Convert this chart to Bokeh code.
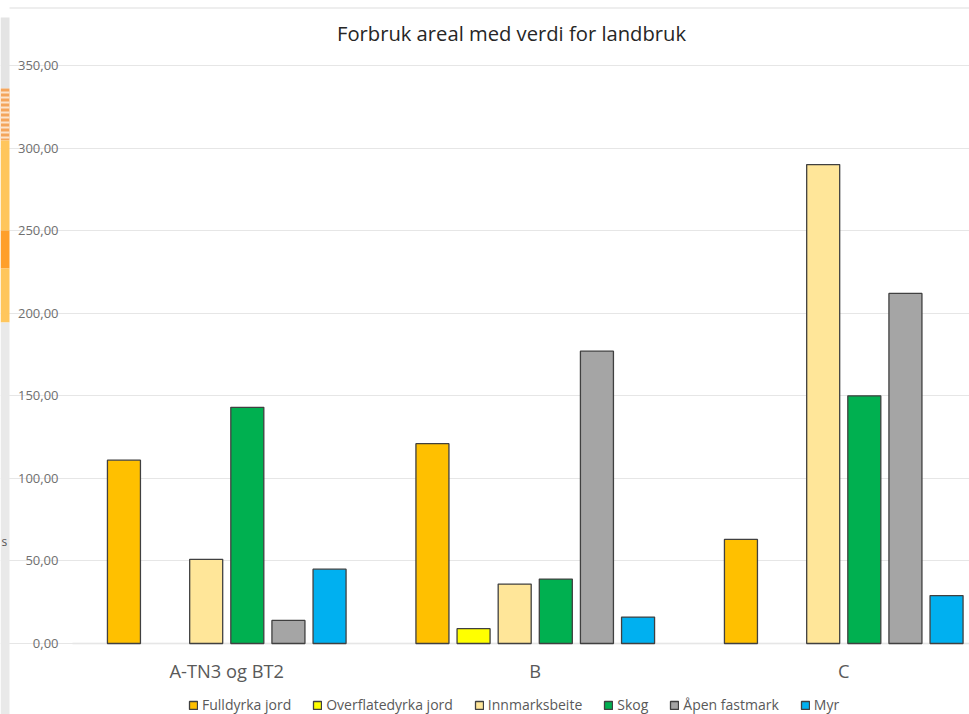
from bokeh.plotting import figure
from bokeh.embed import file_html
from bokeh.resources import INLINE
from bokeh.models import (ColumnDataSource, FixedTicker, Legend, LegendItem, Range1d,
                          BoxAnnotation, Label)

title = "Forbruk areal med verdi for landbruk"
categories = ["A-TN3 og BT2", "B", "C"]
series_names = ["Fulldyrka jord", "Overflatedyrka jord", "Innmarksbeite", "Skog", "Åpen fastmark", "Myr"]
colors = ["#FFC000", "#FFFF00", "#FFE699", "#00B050", "#A5A5A5", "#00B0F0"]
fulldyrka = [111, 121, 63]
overflatedyrka = [0, 9, 0]
innmarksbeite = [51, 36, 290]
skog = [143, 39, 150]
apen_fastmark = [14, 177, 212]
myr = [45, 16, 29]
series = [fulldyrka, overflatedyrka, innmarksbeite, skog, apen_fastmark, myr]
y_ticks = [0, 50, 100, 150, 200, 250, 300, 350]
y_labels = ["0,00", "50,00", "100,00", "150,00", "200,00", "250,00", "300,00", "350,00"]

FONT = "Open Sans"
W, H = 969, 714
PLOT_LEFT, BASE_Y, TOP_Y = 72, 643, 65   # page pixels of the chart's plot box
CAT_W = 308.5
PX_PER_UNIT = (BASE_Y - TOP_Y) / 350

x_start, x_end = -PLOT_LEFT / CAT_W, (W - PLOT_LEFT) / CAT_W
y_start, y_end = -(H - BASE_Y) / PX_PER_UNIT, BASE_Y / PX_PER_UNIT

p = figure(width=W, height=H, output_backend="svg", toolbar_location=None,
           x_range=Range1d(x_start, x_end), y_range=Range1d(y_start, y_end),
           min_border_left=0, min_border_right=0, min_border_top=0, min_border_bottom=0,
           outline_line_color=None, background_fill_color="white", border_fill_color="white")

# Top rule and the cropped map strip at the left edge of the screenshot
def box(x0, x1, y0, y1, c):
    p.add_layout(BoxAnnotation(left=x0, right=x1, top=H - y0, bottom=H - y1, left_units="screen",
                               right_units="screen", top_units="screen", bottom_units="screen",
                               fill_color=c, fill_alpha=1, line_color=None))

box(9, W, 7, 8, "#dddddd")
for y0, y1, c in [(17, 88, "#e4e4e4"), (88, 140, "#f4a55c"), (140, 230, "#ffc65c"), (230, 268, "#ff9f2a"),
                  (268, 322, "#ffc65c"), (322, 714, "#e9e9e9")]:
    box(0, 9, y0, y1, c)
for y0 in range(91, 138, 5):
    box(0, 9, y0, y0 + 2, "#fbe3cc")

# Bars
legend_items = []
step = 0.1333
for j, (name, vals, col) in enumerate(zip(series_names, series, colors)):
    xs = [i + 0.5 + (j - 2.5) * step for i, v in enumerate(vals) if v > 0]
    ys = [v for v in vals if v > 0]
    src = ColumnDataSource(dict(x=xs, top=ys))
    r = p.vbar(x="x", top="top", bottom=0, width=0.107, source=src, fill_color=col,
               line_color="#404040", line_width=1.3)
    legend_items.append(LegendItem(label=name, renderers=[r]))

# Axes, fixed inside the full-page frame
p.yaxis.fixed_location = 0
p.yaxis.ticker = FixedTicker(ticks=y_ticks)
p.yaxis.major_label_overrides = {t_: l for t_, l in zip(y_ticks, y_labels)}
p.yaxis.axis_line_color = None
p.yaxis.major_tick_line_color = None
p.yaxis.major_tick_out = 0
p.yaxis.minor_tick_line_color = None
p.yaxis.major_label_standoff = 14
p.yaxis.major_label_text_font = FONT
p.yaxis.major_label_text_font_size = "13px"
p.yaxis.major_label_text_color = "#707070"

x_ticks = [i + 0.5 for i in range(len(categories))]
p.xaxis.fixed_location = 0
p.xaxis.bounds = (0, x_end)
p.xaxis.level = "underlay"
p.xaxis.ticker = FixedTicker(ticks=x_ticks)
p.xaxis.major_label_overrides = {t_: l for t_, l in zip(x_ticks, categories)}
p.xaxis.axis_line_color = "#e0e0e0"
p.xaxis.axis_line_width = 1.5
p.xaxis.major_tick_line_color = None
p.xaxis.major_tick_out = 0
p.xaxis.minor_tick_line_color = None
p.xaxis.major_label_standoff = 14
p.xaxis.major_label_text_font = FONT
p.xaxis.major_label_text_font_size = "18.3px"
p.xaxis.major_label_text_color = "#595959"

p.xgrid.grid_line_color = None
p.ygrid.grid_line_color = "#e6e6e6"
p.ygrid.grid_line_width = 1.2
p.ygrid.ticker = FixedTicker(ticks=y_ticks)
p.ygrid.bounds = (0, x_end)

# Title
p.add_layout(Label(x=511, y=H - 32, x_units="screen", y_units="screen", text=title,
                   text_align="center", text_baseline="middle", text_font=FONT,
                   text_font_size="20.2px", text_color="#262626"))

# Legend
legend = Legend(items=legend_items, orientation="horizontal", location=(188, 0),
                glyph_width=10, glyph_height=10, label_standoff=4, spacing=21, padding=0, margin=0,
                border_line_color=None, background_fill_alpha=0,
                label_text_font=FONT, label_text_font_size="14px", label_text_color="#595959",
                label_height=14)
p.add_layout(legend, "center")

# Fragment of the map's own lettering visible in the strip
p.add_layout(Label(x=1, y=H - 541, x_units="screen", y_units="screen", text="s", text_baseline="middle",
                   text_font=FONT, text_font_size="12px", text_color="#555555"))

open("out.html", "w").write(file_html(p, INLINE))
